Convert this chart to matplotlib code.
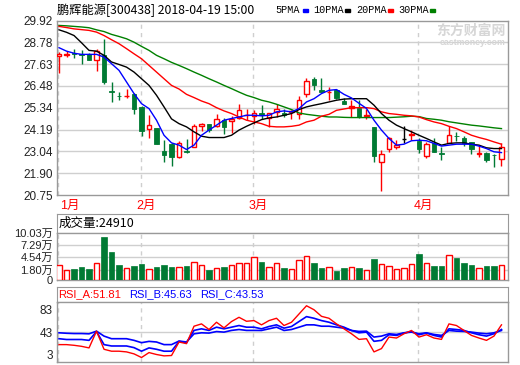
import matplotlib
matplotlib.use('Agg')
import matplotlib.pyplot as plt
from matplotlib.patches import Rectangle
import numpy as np

plt.rcParams['font.family'] = ['Liberation Sans', 'Noto Sans CJK SC', 'DejaVu Sans']

W, H = 520, 365

# daily candles, 2018-01-17 .. 2018-04-19
opens = [28.05, 28.10, 28.20, 28.16, 28.17, 27.82, 28.09, 26.23, 25.97, 25.95,
         26.04, 25.38, 24.24, 24.28, 23.04, 23.42, 22.76, 23.05, 23.28, 24.40,
         24.50, 24.36, 24.71, 24.63, 24.82, 24.93, 24.91, 25.06, 24.82, 25.12,
         25.08, 25.10, 25.03, 26.04, 26.83, 26.25, 26.15, 26.28, 25.69, 25.34,
         25.34, 24.92, 24.30, 22.50, 23.19, 23.25, 23.68, 23.92, 23.60, 22.79,
         23.46, 22.95, 23.49, 23.86, 23.77, 23.54, 22.92, 22.97, 22.86, 22.62]
highs = [28.25, 28.30, 28.44, 28.38, 28.22, 28.43, 28.96, 26.67, 26.16, 26.34,
         26.09, 25.41, 24.94, 24.28, 23.63, 23.49, 23.60, 23.70, 24.50, 24.54,
         24.50, 25.03, 24.80, 24.90, 25.55, 25.29, 25.20, 25.50, 25.06, 25.55,
         25.27, 25.24, 25.94, 26.92, 26.95, 26.90, 26.43, 26.34, 25.87, 25.73,
         25.73, 25.29, 24.30, 23.14, 23.81, 23.63, 24.36, 24.16, 23.72, 23.54,
         23.77, 23.28, 24.36, 24.07, 23.84, 23.54, 23.37, 23.02, 22.93, 23.46]
lows = [27.16, 28.00, 27.96, 27.65, 27.82, 27.26, 26.57, 25.64, 25.73, 25.87,
        25.03, 23.84, 23.75, 23.42, 22.49, 22.27, 22.67, 22.95, 23.25, 24.12,
        24.07, 24.30, 23.98, 24.02, 24.75, 24.68, 24.50, 24.75, 24.33, 24.85,
        24.86, 24.75, 24.72, 25.90, 26.25, 26.16, 25.73, 25.82, 25.55, 24.85,
        24.82, 24.77, 22.49, 20.97, 23.02, 23.19, 23.49, 23.63, 22.97, 22.72,
        23.02, 22.58, 23.49, 23.60, 23.32, 22.93, 22.76, 22.50, 22.23, 22.29]
closes = [28.17, 28.14, 28.18, 28.12, 27.86, 28.31, 26.69, 26.18, 25.95, 25.97,
          25.27, 24.12, 24.45, 23.42, 22.86, 22.76, 23.49, 23.03, 24.36, 24.50,
          24.16, 24.75, 24.30, 24.73, 25.24, 24.98, 25.06, 24.98, 25.06, 25.29,
          24.93, 25.14, 25.73, 26.72, 26.55, 26.16, 26.18, 25.87, 25.55, 25.41,
          24.85, 24.95, 22.79, 22.93, 23.72, 23.40, 23.68, 23.96, 23.19, 23.42,
          23.02, 22.93, 23.89, 23.84, 23.46, 23.19, 22.95, 22.58, 22.84, 23.28]

ma5 = [28.49, 28.31, 28.20, 28.14, 28.14, 28.14, 28.00, 27.65, 27.30, 26.69,
       26.08, 25.55, 25.29, 24.68, 23.89, 23.49, 23.37, 23.14, 23.37, 23.89,
       24.16, 24.42, 24.68, 24.77, 24.85, 24.94, 24.94, 24.91, 24.94, 25.12,
       25.17, 25.12, 25.29, 25.64, 25.81, 26.08, 26.25, 26.29, 26.04, 25.85,
       25.57, 25.30, 24.68, 24.16, 23.72, 23.37, 23.42, 23.60, 23.63, 23.60,
       23.46, 23.32, 23.37, 23.42, 23.42, 23.42, 23.32, 23.19, 23.02, 22.98]
ma10 = [29.43, 29.30, 29.13, 28.75, 28.35, 28.31, 28.09, 27.74, 27.61, 27.47,
        27.21, 26.86, 26.51, 25.99, 25.38, 24.75, 24.50, 24.33, 24.07, 23.84,
        23.77, 23.77, 23.77, 23.89, 24.16, 24.36, 24.54, 24.71, 24.80, 24.85,
        24.94, 25.03, 25.24, 25.38, 25.47, 25.55, 25.64, 25.73, 25.79, 25.81,
        25.81, 25.81, 25.47, 25.03, 24.68, 24.42, 24.24, 24.07, 23.89, 23.72,
        23.54, 23.37, 23.46, 23.49, 23.49, 23.42, 23.37, 23.23, 23.19, 23.19]
ma20 = [29.61, 29.55, 29.48, 29.44, 29.40, 29.31, 29.13, 28.91, 28.70, 28.44,
        28.17, 27.91, 27.56, 27.21, 26.86, 26.51, 26.32, 26.04, 25.87, 25.69,
        25.55, 25.34, 25.17, 25.03, 24.85, 24.68, 24.59, 24.50, 24.36, 24.33,
        24.33, 24.36, 24.42, 24.59, 24.68, 24.89, 24.99, 25.20, 25.27, 25.34,
        25.34, 25.34, 25.29, 25.12, 25.03, 24.99, 24.94, 24.91, 24.85, 24.71,
        24.59, 24.50, 24.36, 24.24, 24.07, 23.89, 23.77, 23.67, 23.54, 23.42]
ma30 = [29.66, 29.64, 29.61, 29.58, 29.54, 29.43, 29.34, 29.19, 29.08, 28.96,
        28.78, 28.56, 28.35, 28.09, 27.91, 27.72, 27.56, 27.39, 27.21, 27.04,
        26.86, 26.69, 26.51, 26.34, 26.16, 25.99, 25.87, 25.73, 25.64, 25.52,
        25.38, 25.24, 25.06, 24.99, 24.94, 24.89, 24.85, 24.85, 24.83, 24.82,
        24.82, 24.82, 24.82, 24.82, 24.82, 24.84, 24.86, 24.89, 24.87, 24.77,
        24.73, 24.68, 24.60, 24.54, 24.48, 24.42, 24.38, 24.33, 24.28, 24.24]

# volume in 万
volume = [2.78, 1.73, 1.95, 2.40, 1.95, 3.22, 9.08, 5.74, 2.84, 2.10,
          2.62, 3.06, 1.88, 2.40, 2.78, 2.40, 2.33, 2.62, 3.52, 2.78,
          1.73, 2.10, 2.40, 2.78, 3.22, 3.22, 4.56, 3.52, 2.33, 3.29,
          2.17, 1.88, 3.96, 4.85, 3.36, 2.17, 2.33, 1.58, 2.17, 2.33,
          2.17, 1.73, 4.18, 3.06, 2.55, 1.95, 2.17, 3.06, 5.29, 3.29,
          2.62, 2.62, 5.01, 4.40, 3.29, 2.78, 2.10, 2.62, 2.62, 2.78]

rsi_a = [21.0, 21.0, 19.8, 18.0, 15.2, 44.7, 12.8, 9.4, 9.4, 8.2,
         4.7, -1.7, 7.0, 3.6, 1.2, 1.8, 25.6, 22.7, 53.4, 57.5,
         47.6, 60.4, 50.5, 61.6, 69.1, 62.1, 63.3, 55.8, 63.3, 67.4,
         54.6, 60.4, 74.9, 89.4, 82.4, 70.8, 67.4, 57.5, 48.8, 40.1,
         30.2, 31.4, 8.2, 14.0, 34.3, 32.6, 40.1, 45.9, 34.3, 38.4,
         32.6, 30.2, 57.5, 54.6, 45.9, 37.2, 32.6, 28.5, 36.0, 55.8]
rsi_b = [31.4, 30.0, 30.0, 30.0, 28.5, 44.0, 21.0, 18.6, 18.6, 18.6,
         15.7, 9.4, 15.2, 12.8, 9.4, 9.4, 26.7, 24.4, 46.0, 48.8,
         46.0, 51.7, 48.8, 51.7, 54.6, 51.7, 51.7, 48.8, 52.9, 55.8,
         50.0, 52.9, 61.6, 70.3, 67.4, 63.3, 60.4, 55.8, 51.7, 45.9,
         41.8, 43.0, 26.8, 28.5, 38.4, 37.2, 41.3, 44.2, 38.4, 41.3,
         37.2, 34.3, 48.8, 47.6, 45.9, 41.8, 38.4, 36.0, 40.1, 47.6]
rsi_c = [41.8, 41.0, 40.5, 40.5, 40.0, 44.7, 36.0, 31.4, 31.4, 31.4,
         28.5, 24.4, 26.7, 25.6, 21.0, 21.0, 27.3, 25.6, 40.0, 41.8,
         41.3, 44.0, 43.0, 46.0, 47.6, 46.0, 46.0, 45.9, 48.8, 51.7,
         45.9, 47.6, 51.7, 55.8, 55.8, 53.4, 53.4, 51.7, 50.0, 45.9,
         44.2, 44.7, 34.3, 36.0, 40.1, 38.9, 41.8, 43.0, 40.1, 41.8,
         38.9, 37.2, 45.9, 44.7, 44.2, 43.0, 41.3, 40.1, 41.8, 45.9]

month_idx = [0, 11, 26, 48]
month_labels = ['1月', '2月', '3月', '4月']

price_ticks = [20.75, 21.90, 23.04, 24.19, 25.34, 26.48, 27.63, 28.78, 29.92]
vol_floor = -0.49
vol_ticks = [vol_floor, 1.80, 4.54, 7.29, 10.03]
vol_labels = ['0', '1.80万', '4.54万', '7.29万', '10.03万']
rsi_ticks = [3, 43, 83]

RED = '#ff0000'
GREEN = '#007a33'
GRID = '#cfcfcf'
EDGE = '#999999'
TXT = '#222222'
CJK = ['Noto Sans CJK SC', 'DejaVu Sans']


def box(l, t, r, b):
    return [l / W, 1 - b / H, (r - l) / W, (b - t) / H]


def style(ax, ticks, labels=None, size=8.5):
    ax.set_xlim(-0.27, 59.87)
    ax.set_xticks([])
    ax.set_yticks(ticks)
    if labels is not None:
        ax.set_yticklabels(labels)
    ax.tick_params(axis='y', length=0, pad=3, labelsize=size, labelcolor=TXT)
    for s in ax.spines.values():
        s.set_color(EDGE)
        s.set_linewidth(1)
    for m in month_idx:
        ax.axvline(m - 0.1, color=GRID, lw=1, ls=(0, (3, 3)), zorder=0)


o = np.array(opens); h = np.array(highs); l = np.array(lows); c = np.array(closes)
x = np.arange(len(c))
up = c > o
down = c < o
flat = ~(up | down)

fig = plt.figure(figsize=(W / 100, H / 100), dpi=100)

# price panel
ax = fig.add_axes(box(57, 20.5, 508, 195))
style(ax, price_ticks, ['%.2f' % t for t in price_ticks])
ax.set_ylim(20.75, 29.92)
for t in price_ticks[1:-1]:
    ax.axhline(t, color=GRID, lw=1, zorder=0)

bw = 0.64
for i in x:
    top, bot = max(o[i], c[i]), min(o[i], c[i])
    if up[i]:
        ax.vlines(i, top, h[i], color=RED, lw=1, zorder=2)
        ax.vlines(i, l[i], bot, color=RED, lw=1, zorder=2)
    else:
        ax.vlines(i, l[i], h[i], color=GREEN if down[i] else 'black', lw=1, zorder=2)
ax.bar(x[up], (c - o)[up], bottom=o[up], width=bw, facecolor='white', edgecolor=RED, lw=1, zorder=3)
ax.bar(x[down], (o - c)[down], bottom=c[down], width=bw, color=GREEN, edgecolor=GREEN, lw=0.6, zorder=3)
ax.hlines(o[flat], x[flat] - bw / 2, x[flat] + bw / 2, color='black', lw=1, zorder=3)

ax.plot(x, ma30, color='#008000', lw=1, zorder=4)
ax.plot(x, ma20, color=RED, lw=1, zorder=4)
ax.plot(x, ma10, color='black', lw=1, zorder=4)
ax.plot(x, ma5, color='#0000ff', lw=1, zorder=4)

# watermark
ax.text(0.995, 0.94, '东方财富网', transform=ax.transAxes, ha='right', va='center',
        fontsize=10, color='#d6d6d6', family=CJK, fontweight='bold', zorder=1)
ax.text(0.995, 0.875, 'eastmoney.com', transform=ax.transAxes, ha='right', va='center',
        fontsize=6.3, color='#d6d6d6', fontweight='bold', zorder=1)

# month labels
for m, lab in zip(month_idx, month_labels):
    xp = 59 + 7.5 * m - 5
    fig.text(max(xp, 60) / W, 1 - 206 / H, lab, color=RED, fontsize=9, va='center', ha='left')

# title and legend
fig.text(57 / W, 1 - 10 / H, '鹏辉能源[300438] 2018-04-19 15:00', fontsize=8.8,
         family=CJK, va='center', ha='left', color='black')
leg = [('5PMA', 275, 303, '#0000ff'), ('10PMA', 313, 345, 'black'),
       ('20PMA', 356, 388, RED), ('30PMA', 398, 430, '#008000')]
for name, tx, sx, col in leg:
    fig.text(tx / W, 1 - 10 / H, name, fontsize=7.3, family=['Liberation Mono'],
             va='center', ha='left', color='black')
    fig.patches.append(Rectangle((sx / W, 1 - 11.5 / H), 5 / W, 3 / H,
                                 transform=fig.transFigure, color=col))

# volume panel
hv = fig.add_axes(box(57, 214, 508, 232.7))
hv.set_xticks([]); hv.set_yticks([])
for s in hv.spines.values():
    s.set_color(EDGE)
hv.text(0.003, 0.5, '成交量:24910', transform=hv.transAxes, fontsize=9,
        family=CJK, va='center', ha='left', color='black')

av = fig.add_axes(box(57, 232.7, 508, 280))
style(av, vol_ticks, vol_labels, size=8)
av.set_ylim(vol_floor, 10.03)
for t in vol_ticks[1:-1]:
    av.axhline(t, color=GRID, lw=1, zorder=0)
vol = np.array(volume)
vup = c >= o
av.bar(x[vup], vol[vup] - vol_floor, bottom=vol_floor, width=0.72,
       facecolor='white', edgecolor=RED, lw=1, zorder=3)
av.bar(x[~vup], vol[~vup] - vol_floor, bottom=vol_floor, width=0.72,
       color=GREEN, edgecolor=GREEN, lw=0.5, zorder=3)

# RSI panel
hr = fig.add_axes(box(57, 287, 508, 301.5))
hr.set_xticks([]); hr.set_yticks([])
for s in hr.spines.values():
    s.set_color(EDGE)
for txt, px, col in [('RSI_A:51.81', 58, RED), ('RSI_B:45.63', 129, '#0000ff'),
                     ('RSI_C:43.53', 200, '#0000ff')]:
    fig.text(px / W, 1 - 294.5 / H, txt, fontsize=8, color=col, va='center', ha='left')

ar = fig.add_axes(box(57, 301.5, 508, 362))
style(ar, rsi_ticks)
ar.set_ylim(-9.6, 96.9)
ar.axhline(43, color=GRID, lw=1, zorder=0)
ar.plot(x, rsi_c, color='#0000ff', lw=1.2, zorder=3)
ar.plot(x, rsi_b, color='#0000ff', lw=1.2, zorder=3)
ar.plot(x, rsi_a, color=RED, lw=1, zorder=4)

fig.savefig('out.png', dpi=100)
